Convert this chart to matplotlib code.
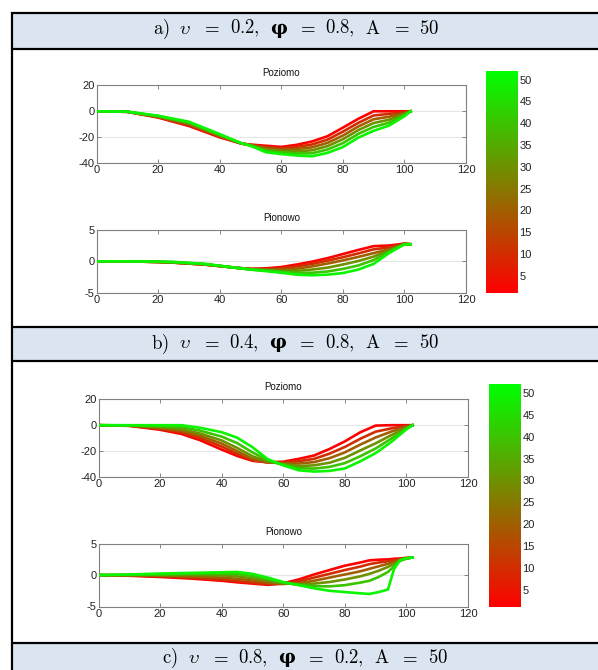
import matplotlib
matplotlib.use("Agg")
import matplotlib.pyplot as plt
from matplotlib.colors import LinearSegmentedColormap, Normalize
from matplotlib.cm import ScalarMappable

plt.rcParams['font.family'] = ['Liberation Sans', 'DejaVu Sans']
plt.rcParams['axes.unicode_minus'] = False
plt.rcParams['mathtext.fontset'] = 'cm'

# ---------------- data ----------------
A_VALUES = [1, 10, 20, 30, 40, 50]
CBAR_TICKS = [5, 10, 15, 20, 25, 30, 35, 40, 45, 50]
X_TICKS = [0, 20, 40, 60, 80, 100, 120]
TOP_YTICKS = [-40, -20, 0, 20]
BOT_YTICKS = [-5, 0, 5]
TITLE_TOP = "Poziomo"
TITLE_BOT = "Pionowo"

HEADER_LABELS = ["a", "b", "c"]
HEADER_UPSILON = ["0.2", "0.4", "0.8"]
HEADER_PHI = ["0.8", "0.8", "0.2"]
HEADER_A = ["50", "50", "50"]

# panel a, "Poziomo"
PA_TOP_X = [0, 10, 20, 30, 40, 47, 50, 55, 60, 65, 70, 75, 80, 85, 90, 95, 100, 102]
PA_TOP_Y = [
    [0, -0.4, -4.8, -11.3, -20.0, -24.8, -25.6, -26.5, -27.4, -25.8, -23.2, -19.2, -12.6, -5.8, 0.0, 0.0, 0.0, 0.0],
    [0, -0.4, -4.5, -10.6, -19.5, -24.8, -25.8, -27.4, -28.4, -27.4, -25.5, -21.8, -15.7, -8.9, -3.2, -2.0, -0.7, 0.0],
    [0, -0.4, -4.2, -9.9, -19.0, -24.7, -26.0, -28.4, -29.5, -29.1, -27.7, -24.3, -18.7, -11.7, -6.1, -4.2, -1.4, 0.0],
    [0, -0.3, -3.9, -9.2, -18.5, -24.6, -26.2, -29.4, -30.6, -30.8, -30.0, -26.8, -21.5, -14.5, -9.0, -6.5, -2.2, 0.0],
    [0, -0.3, -3.6, -8.6, -18.0, -24.5, -26.4, -30.4, -31.7, -32.4, -32.3, -29.4, -24.5, -17.4, -12.0, -8.8, -3.0, 0.0],
    [0, -0.3, -3.4, -8.0, -17.5, -24.5, -26.5, -31.5, -32.9, -34.0, -34.6, -32.0, -27.5, -20.3, -15.0, -11.0, -3.8, 0.0],
]
# panel a, "Pionowo"
PA_BOT_X = [0, 10, 20, 25, 35, 45, 50, 55, 60, 65, 70, 75, 80, 85, 90, 95, 100, 102]
PA_BOT_Y = [
    [0, 0.0, -0.1, -0.2, -0.5, -1.0, -1.2, -1.1, -0.9, -0.5, -0.05, 0.5, 1.15, 1.8, 2.4, 2.5, 2.8, 2.7],
    [0, 0.0, -0.1, -0.2, -0.5, -1.0, -1.2, -1.2, -1.1, -0.8, -0.4, 0.1, 0.65, 1.25, 1.9, 2.2, 2.8, 2.7],
    [0, 0.0, -0.1, -0.2, -0.5, -1.0, -1.2, -1.3, -1.3, -1.15, -0.8, -0.35, 0.15, 0.7, 1.3, 1.9, 2.75, 2.7],
    [0, 0.0, -0.1, -0.15, -0.45, -1.0, -1.25, -1.4, -1.5, -1.5, -1.3, -1.0, -0.5, 0.05, 0.75, 1.7, 2.7, 2.7],
    [0, 0.0, -0.05, -0.1, -0.4, -1.0, -1.3, -1.45, -1.65, -1.8, -1.8, -1.6, -1.2, -0.65, 0.2, 1.5, 2.7, 2.7],
    [0, 0.0, -0.05, -0.1, -0.4, -1.0, -1.3, -1.55, -1.8, -2.1, -2.2, -2.1, -1.85, -1.3, -0.4, 1.3, 2.7, 2.7],
]
# panel b, "Poziomo"
PB_TOP_X = [0, 10, 20, 27, 33, 40, 45, 50, 55, 60, 65, 70, 75, 80, 85, 90, 95, 100, 102]
PB_TOP_Y = [
    [0, -0.5, -3.5, -6.8, -11.6, -18.8, -23.7, -27.5, -28.6, -28.2, -26.0, -23.4, -18.4, -12.5, -5.5, -0.3, 0.0, 0.0, 0.0],
    [0, -0.4, -2.9, -5.6, -9.8, -16.5, -22.0, -27.0, -28.8, -28.8, -27.8, -26.0, -22.0, -16.8, -10.5, -5.0, -2.5, -0.6, 0.0],
    [0, -0.3, -2.2, -4.4, -8.2, -14.2, -20.0, -26.0, -28.6, -29.4, -29.6, -28.5, -25.5, -21.0, -15.0, -9.5, -5.0, -1.2, 0.0],
    [0, -0.2, -1.5, -3.0, -6.4, -11.8, -17.5, -24.0, -28.0, -30.0, -31.5, -31.0, -29.0, -25.2, -19.5, -14.0, -7.8, -2.0, 0.0],
    [0, -0.1, -0.8, -1.5, -4.2, -8.8, -13.8, -21.0, -27.0, -30.5, -33.2, -33.5, -32.2, -29.3, -24.0, -18.0, -10.5, -2.6, 0.0],
    [0, 0.0, 0.0, 0.0, -2.0, -5.4, -9.6, -17.0, -26.3, -31.0, -34.8, -35.8, -35.3, -33.4, -27.9, -21.6, -13.1, -3.2, 0.0],
]
# panel b, "Pionowo"
PB_BOT_X = [0, 10, 20, 30, 40, 45, 50, 55, 60, 65, 70, 75, 80, 85, 88, 91, 94, 96, 98, 100, 102]
PB_BOT_Y = [
    [0, -0.1, -0.3, -0.55, -0.9, -1.15, -1.35, -1.55, -1.3, -0.7, 0.1, 0.8, 1.5, 2.0, 2.35, 2.45, 2.5, 2.6, 2.65, 2.75, 2.8],
    [0, -0.05, -0.2, -0.4, -0.7, -0.95, -1.2, -1.45, -1.4, -1.0, -0.4, 0.2, 0.8, 1.35, 1.75, 2.0, 2.2, 2.4, 2.55, 2.7, 2.8],
    [0, 0.0, -0.1, -0.2, -0.4, -0.6, -0.85, -1.2, -1.4, -1.3, -0.9, -0.4, 0.1, 0.6, 1.0, 1.4, 1.8, 2.1, 2.4, 2.7, 2.8],
    [0, 0.0, 0.0, 0.0, -0.05, -0.2, -0.5, -0.9, -1.3, -1.45, -1.35, -1.1, -0.7, -0.2, 0.2, 0.7, 1.3, 1.8, 2.3, 2.65, 2.8],
    [0, 0.05, 0.1, 0.2, 0.2, 0.15, -0.15, -0.65, -1.2, -1.55, -1.75, -1.8, -1.6, -1.2, -0.9, -0.3, 0.5, 1.4, 2.3, 2.65, 2.8],
    [0, 0.1, 0.25, 0.35, 0.45, 0.5, 0.2, -0.4, -1.1, -1.6, -2.1, -2.5, -2.7, -2.9, -3.0, -2.7, -2.3, 1.0, 2.4, 2.7, 2.8],
]

# ---------------- layout ----------------
W, H = 598, 670
fig = plt.figure(figsize=(W / 100, H / 100), dpi=100)
fig.patch.set_facecolor('white')


def rect(l, t, r, b):
    return [l / W, 1 - b / H, (r - l) / W, (b - t) / H]


cmap = LinearSegmentedColormap.from_list('rg', [(1, 0, 0), (0, 1, 0)], N=256)
norm = Normalize(vmin=1, vmax=52)

bg = fig.add_axes([0, 0, 1, 1], zorder=0)
bg.set_xlim(0, W)
bg.set_ylim(H, 0)
bg.axis('off')

HEAD_FILL = '#dbe5f1'
header_rows = [(13, 49), (327, 361), (643, 690)]
for top, bot in header_rows:
    bg.add_patch(plt.Rectangle((11, top), W, bot - top, facecolor=HEAD_FILL,
                               edgecolor='none', zorder=1))
for yy in [13, 49, 327, 361, 643]:
    bg.plot([11, W + 5], [yy, yy], color='black', lw=1.6, solid_capstyle='butt', zorder=3)
bg.plot([11.5, 11.5], [12.2, H + 5], color='black', lw=1.6, solid_capstyle='butt', zorder=3)

# header texts, built from tokens with word gaps
header_pos = [(296, 33.5), (295, 348.5), (305, 663)]
HEAD_SIZE = 13.5
GAP = 10.0
renderer = fig.canvas.get_renderer()
for i, (cx, base) in enumerate(header_pos):
    tokens = [
        (r'$\mathrm{' + HEADER_LABELS[i] + r')}$', {}),
        (r'$\upsilon$', {}),
        (r'$=$', {}),
        (r'$' + HEADER_UPSILON[i] + r',$', {}),
        ('φ', dict(family='DejaVu Serif', weight='bold')),
        (r'$=$', {}),
        (r'$' + HEADER_PHI[i] + r',$', {}),
        (r'$\mathrm{A}$', {}),
        (r'$=$', {}),
        (r'$' + HEADER_A[i] + r'$', {}),
    ]
    texts = []
    widths = []
    for s, kw in tokens:
        t = bg.text(0, base, s, fontsize=HEAD_SIZE, va='baseline', ha='left',
                    zorder=4, **kw)
        texts.append(t)
        widths.append(t.get_window_extent(renderer).width)
    total = sum(widths) + GAP * (len(tokens) - 1)
    x = cx - total / 2
    for t, w in zip(texts, widths):
        t.set_x(x)
        x += w + GAP


def style_axes(ax, ylim, yticks, title):
    ax.set_xlim(0, 120)
    ax.set_ylim(*ylim)
    ax.set_xticks(X_TICKS)
    ax.set_yticks(yticks)
    ax.tick_params(direction='in', top=True, right=True, length=3, width=0.6,
                   color='0.45', labelsize=8, pad=1.5, labelcolor='#222222')
    for sp in ax.spines.values():
        sp.set_color('0.5')
        sp.set_linewidth(0.8)
    ax.yaxis.grid(True, color='0.9', lw=0.8)
    ax.set_axisbelow(True)
    ax.set_title(title, fontsize=7, pad=6.5, color='#111111')


def draw_family(ax, xs, ys_list):
    for a, ys in zip(A_VALUES, ys_list):
        ax.plot(xs, ys, color=cmap(norm(a)), lw=1.9, solid_joinstyle='round', zorder=3)


panels = [
    dict(top=(96.5, 85.3, 466, 163.3), bot=(96.5, 229.7, 466, 293),
         cbar=(486, 71, 518, 293),
         data=((PA_TOP_X, PA_TOP_Y), (PA_BOT_X, PA_BOT_Y))),
    dict(top=(98.5, 399.3, 468, 477), bot=(98.5, 543.7, 468, 606.5),
         cbar=(489, 384.3, 521, 607.3),
         data=((PB_TOP_X, PB_TOP_Y), (PB_BOT_X, PB_BOT_Y))),
]

for p in panels:
    ax1 = fig.add_axes(rect(*p['top']), zorder=2)
    style_axes(ax1, (-40, 20), TOP_YTICKS, TITLE_TOP)
    draw_family(ax1, *p['data'][0])
    ax2 = fig.add_axes(rect(*p['bot']), zorder=2)
    style_axes(ax2, (-5, 5), BOT_YTICKS, TITLE_BOT)
    draw_family(ax2, *p['data'][1])
    cax = fig.add_axes(rect(*p['cbar']), zorder=2)
    sm = ScalarMappable(norm=norm, cmap=cmap)
    cb = fig.colorbar(sm, cax=cax)
    cb.set_ticks(CBAR_TICKS)
    cb.outline.set_visible(False)
    cax.tick_params(length=0, pad=1, labelsize=8, labelcolor='#222222')

fig.savefig('out.png', dpi=100, facecolor='white')
